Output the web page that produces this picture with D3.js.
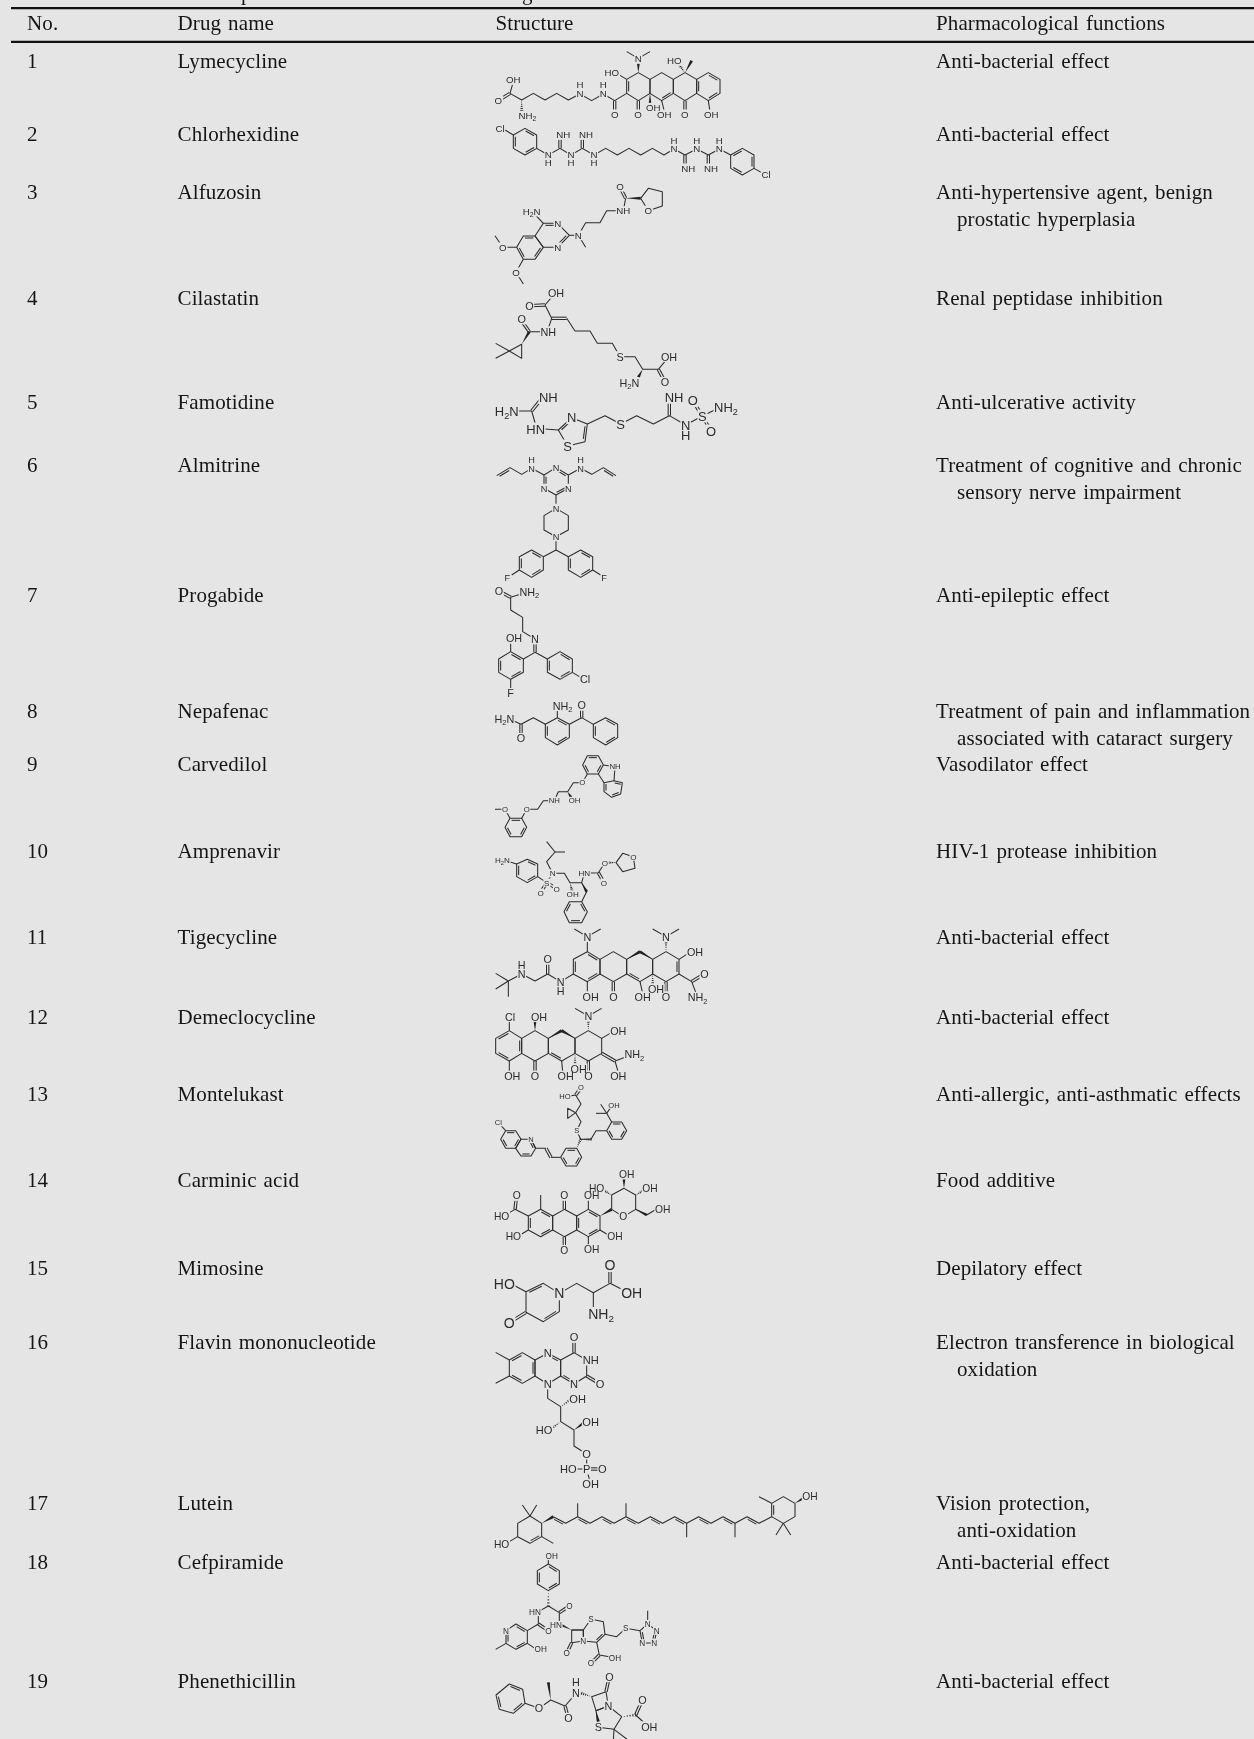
<!DOCTYPE html>
<html lang="en">
<head>
  <meta charset="UTF-8">
  <title>Drug table</title>
  <script src="https://d3js.org/d3.v7.min.js"></script>
  <style>
    * { margin: 0; padding: 0; box-sizing: border-box; }
    body { width: 1254px; height: 1739px; background-color: #e5e5e5; overflow: hidden; }
    svg { display: block; filter: blur(0.35px); }
    .cell { font-family: "Liberation Serif", serif; font-size: 21px; letter-spacing: 0.12px; word-spacing: 1.6px; fill: #151515; }
    .atom { font-family: "Liberation Sans", sans-serif; fill: #2b2b2b; text-anchor: middle; }
    .bond { fill: none; stroke: #2b2b2b; stroke-width: 1.05px; stroke-linejoin: round; }
  </style>
</head>
<body>
  <div id="table"></div>

  <script>
    // Table content
    const headers = ['No.', 'Drug name', 'Structure', 'Pharmacological functions'];
    const drugNames = ['Lymecycline', 'Chlorhexidine', 'Alfuzosin', 'Cilastatin', 'Famotidine', 'Almitrine',
      'Progabide', 'Nepafenac', 'Carvedilol', 'Amprenavir', 'Tigecycline', 'Demeclocycline', 'Montelukast',
      'Carminic acid', 'Mimosine', 'Flavin mononucleotide', 'Lutein', 'Cefpiramide', 'Phenethicillin'];
    const functions = [
      ['Anti-bacterial effect'],
      ['Anti-bacterial effect'],
      ['Anti-hypertensive agent, benign', 'prostatic hyperplasia'],
      ['Renal peptidase inhibition'],
      ['Anti-ulcerative activity'],
      ['Treatment of cognitive and chronic', 'sensory nerve impairment'],
      ['Anti-epileptic effect'],
      ['Treatment of pain and inflammation', 'associated with cataract surgery'],
      ['Vasodilator effect'],
      ['HIV-1 protease inhibition'],
      ['Anti-bacterial effect'],
      ['Anti-bacterial effect'],
      ['Anti-allergic, anti-asthmatic effects'],
      ['Food additive'],
      ['Depilatory effect'],
      ['Electron transference in biological', 'oxidation'],
      ['Vision protection,', 'anti-oxidation'],
      ['Anti-bacterial effect'],
      ['Anti-bacterial effect']
    ];

    // Layout
    const width = 1254, height = 1739;
    const columnX = [27, 177.5, 495.5, 936];
    const wrapIndent = 21, lineGap = 27;
    const headerBaseline = 30;
    const rowBaselines = [68, 141, 199, 305, 409, 471.5, 601.5, 717.5, 771, 857.5, 944, 1024, 1101, 1187,
      1275, 1349, 1509.5, 1569, 1688];

    // Structures. Units are the 3x zoom of a crop starting at origin.
    // chains/rings: polylines, doubles: x1,y1,x2,y2[,cx,cy] (cx,cy = side of the inner line)
    const lymecycline = { origin: [480, 40], size: 9,
      chains: [[100,125,90,160,125,180,160,160,195,180,230,160,265,180,300,162,335,182,370,162,404,182,440,160],
        [440,118,415,103],[475,55,440,35],[475,55,510,35],[545,182,553,215],[685,182,690,215]],
      rings: [[440,160,440,118,475,98,510,118,510,160,475,182],[510,118,545,98,580,118,580,160,545,182,510,160],
        [580,118,615,98,650,118,650,160,615,182,580,160],[650,118,685,98,720,118,720,160,685,182,650,160]],
      doubles: [[90,160,55,182],[404,182,404,223],[475,182,475,223],[615,182,615,223],[440,160,440,118,475,140],
        [545,182,580,160,545,140],[685,98,720,118,685,140],[720,160,685,182,685,140],[650,118,650,160,685,140]],
      wedges: [[475,98,475,68],[510,160,510,195],[615,98,635,62]],
      hashes: [[125,180,125,212],[615,98,598,75]],
      labels: [['OH',100,120],['O',55,182],['NH2',142,227],['H',300,135],['N',300,162],['H',370,135],['N',370,162],
        ['O',404,223],['O',474,223],['OH',520,203],['OH',553,223],['O',614,223],['OH',694,223],['HO',395,98],
        ['N',475,57],['HO',583,63]] };

    const chlorhexidine = { origin: [480, 40], size: 9,
      chains: [[100,285,75,270],[170,325,205,345,240,325,273,345,307,325,342,345,377,325,412,345,447,325,482,345,517,325,552,345,582,327,615,345,650,327,685,345,718,327,752,345],
        [822,385,845,398]],
      rings: [[135,265,170,285,170,325,135,345,100,325,100,285],[752,345,787,325,822,345,822,385,787,405,752,385]],
      doubles: [[240,325,240,295],[307,325,307,295],[615,345,615,378],[685,345,685,378],[135,265,170,285,135,305],
        [170,325,135,345,135,305],[100,325,100,285,135,305],[752,345,787,325,787,365],[822,345,822,385,787,365],[787,405,752,385,787,365]],
      labels: [['Cl',60,266],['N',205,345],['H',205,368],['N',273,345],['H',273,368],['N',342,345],['H',342,368],
        ['NH',250,285],['NH',318,285],['N',582,327],['H',582,302],['N',650,327],['H',650,302],['N',718,327],['H',718,302],
        ['NH',625,385],['NH',693,385],['Cl',858,404]] };

    const alfuzosin = { origin: [480, 40], size: 9,
      chains: [[190,550,162,520],[130,658,108,697,130,732],[110,622,68,622,45,587],[268,586,295,586,317,622],
        [295,586,317,548,360,548,380,512,430,512,437,475]],
      rings: [[268,586,233,550,190,550,165,588,190,622,233,622],[165,588,190,622,165,658,130,658,110,622,130,588],
        [482,475,505,445,547,455,547,498,505,512]],
      doubles: [[437,475,420,442],[233,550,190,550,222,586],[268,586,233,622,222,586],[165,588,130,588,150,622],[190,622,165,658,150,622],[130,658,110,622,150,622]],
      wedges: [[437,475,482,475]],
      labels: [['H2N',155,515],['N',233,550],['N',233,622],['N',295,586],['O',68,622],['O',108,697],['NH',430,513],['O',420,440],['O',505,512]] };

    const cilastatin = { origin: [470, 280], size: 10,
      chains: [[178,155,232,155,245,115,225,75,255,40],[290,115,315,153,360,153,382,190,427,190,450,230,495,230,518,268,565,268,597,230],
        [118,213,77,190],[118,213,77,235]],
      rings: [[155,193,118,213,155,235]],
      doubles: [[178,155,153,120],[225,75,180,77],[245,115,290,115],[565,268,585,305]],
      wedges: [[155,193,178,155],[518,268,505,292]],
      labels: [['OH',258,40],['O',178,77],['O',155,117],['NH',235,155],['S',450,230],['OH',597,230],['O',585,307],['H2N',478,308]] };

    const famotidine = { origin: [470, 280], size: 12,
      chains: [[130,393,185,393,197,435],[225,447,265,450],[352,432,405,407,452,432,500,407,550,432,598,407,647,435,697,408,745,385]],
      rings: [[265,450,305,413,352,432,345,485,293,498]],
      doubles: [[185,393,210,362],[598,407,598,365],[697,408,668,362],[697,408,723,453],[265,450,305,413,308,455],[352,432,345,485,308,455]],
      labels: [['H2N',110,393],['NH',235,353],['HN',197,447],['N',305,413],['S',293,498],['S',452,432],['NH',612,352],['N',647,435],['H',647,465],['S',697,408],['O',668,362],['O',723,453],['NH2',768,383]] };

    const almitrine = { origin: [470, 280], size: 8.5,
      chains: [[80,587,120,563,155,583,185,565,222,585],[295,585,332,565,365,583,400,563,438,587],[258,645,258,685],[258,770,258,810,220,830],[258,810,295,830],[148,870,125,885],[368,870,392,885]],
      rings: [[258,563,295,585,295,625,258,645,222,625,222,585],[258,685,295,707,295,750,258,770,222,750,222,707],
        [185,810,220,830,220,870,185,892,148,870,148,830],[332,810,295,830,295,870,332,892,368,870,368,830]],
      doubles: [[80,587,120,563,120,585],[400,563,438,587,400,585],[258,563,295,585,258,605],[295,625,258,645,258,605],[222,625,222,585,258,605],
        [185,810,220,830,185,850],[220,870,185,892,185,850],[148,870,148,830,185,850],[295,830,295,870,332,850],[332,892,368,870,332,850],[368,830,332,810,332,850]],
      labels: [['H',185,538],['N',185,565],['N',258,563],['N',332,565],['H',332,538],['N',295,625],['N',222,625],['N',258,685],['N',258,770],['F',112,892],['F',402,892]] };

    const progabide = { origin: [470, 590], size: 10,
      chains: [[122,22,175,5],[122,22,122,60,158,82,158,125,195,147],[195,187,160,207],[195,187,232,207],[122,185,122,160],[122,268,122,298],[307,247,332,262]],
      rings: [[160,207,160,247,122,268,86,247,86,207,122,185],[232,207,232,247,270,268,307,247,307,207,270,185]],
      doubles: [[122,22,87,3],[195,147,195,187],[160,207,122,185,122,227],[160,247,122,268,122,227],[86,247,86,207,122,227],
        [232,207,232,247,270,227],[270,268,307,247,270,227],[307,207,270,185,270,227]],
      labels: [['O',87,3],['NH2',178,5],['N',195,147],['OH',132,145],['F',122,310],['Cl',345,268]] };

    const nepafenac = { origin: [470, 590], size: 10,
      chains: [[125,390,153,403,190,383,226,403],[262,383,262,358],[298,403,335,383,370,403]],
      rings: [[226,403,262,383,298,403,298,443,262,465,226,443],[370,403,407,383,443,403,443,443,407,465,370,443]],
      doubles: [[153,403,153,445],[335,383,335,346],[262,383,298,403,262,425],[298,443,262,465,262,425],[226,443,226,403,262,425],
        [370,403,370,443,407,425],[407,383,443,403,407,425],[443,443,407,465,407,425]],
      labels: [['H2N',103,387],['O',153,445],['NH2',278,347],['O',335,346]] };

    const carvedilol = { origin: [470, 590], size: 7.2,
      chains: [[75,658,105,658,120,685],[155,685,170,658,203,658,220,632,253,632,265,605,293,605,310,578,337,578,352,552],[400,525,435,530,432,572],[385,552,402,578]],
      rings: [[120,685,155,685,170,712,155,740,120,740,105,712],[352,552,338,525,352,497,385,497,400,525,385,552],[432,572,457,578,452,612,425,622,402,605,402,578]],
      doubles: [[120,685,155,685,137,712],[170,712,155,740,137,712],[120,740,105,712,137,712],[352,552,338,525,369,525],[352,497,385,497,369,525],[400,525,385,552,369,525],
        [432,572,457,578,428,598],[452,612,425,622,428,598],[402,605,402,578,428,598]],
      wedges: [[293,605,303,622]],
      labels: [['O',105,658],['O',170,658],['NH',253,632],['OH',314,632],['O',337,578],['NH',435,530]] };

    const amprenavir = { origin: [470, 590], size: 7.5,
      chains: [[100,810,140,822],[203,860,230,878,248,850,230,815,255,786,230,755],[255,786,285,786],[248,850,283,850,300,878,335,878,343,850,385,848,405,818],[335,878,350,905,335,935]],
      rings: [[140,822,172,808,203,822,203,860,172,878,140,860],[438,818,458,790,490,800,495,835,458,845],[335,935,352,965,335,998,298,998,282,965,298,935]],
      doubles: [[230,878,212,908],[230,878,260,896],[385,848,402,878],[172,808,203,822,172,842],[203,860,172,878,172,842],[140,860,140,822,172,842],
        [335,935,352,965,317,965],[335,998,298,998,317,965],[282,965,298,935,317,965]],
      wedges: [[335,878,350,905]],
      hashes: [[300,878,306,902],[438,818,412,818]],
      labels: [['H2N',97,810],['S',230,878],['O',212,908],['O',260,896],['N',248,850],['OH',308,913],['HN',343,850],['O',405,818],['O',402,878],['O',490,800]] };

    const tigecycline = { origin: [470, 920], size: 10,
      chains: [[115,183,77,160],[115,183,77,207],[115,183,115,230],[115,183,155,162,195,183,233,162,272,185,310,162],[352,50,313,27],[352,50,392,27],[352,95,352,60],[352,185,352,218],
        [510,185,518,220],[588,50,548,27],[588,50,627,27],[627,118,655,100],[627,162,665,185,683,232]],
      rings: [[310,162,310,118,352,95,390,118,390,162,352,185],[390,118,430,95,470,118,470,162,430,185,390,162],[470,118,510,95,548,118,548,162,510,185,470,162],[548,118,588,95,627,118,627,162,588,185,548,162]],
      doubles: [[233,162,233,118],[430,185,430,230],[588,185,588,230],[665,185,703,162],[310,162,310,118,350,140],[352,95,390,118,350,140],[390,162,352,185,350,140],[470,162,510,185,510,140],[627,118,627,162,588,140]],
      wedges: [[470,118,510,95],[548,118,510,95]],
      hashes: [[588,95,588,62],[548,162,548,195]],
      labels: [['H',155,135],['N',155,162],['O',233,118],['N',272,185],['H',272,212],['N',352,50],['OH',362,230],['O',430,230],['OH',518,230],['OH',558,207],['O',588,230],['N',588,50],['OH',675,95],['O',703,162],['NH2',683,232]] };

    const demeclocycline = { origin: [470, 920], size: 10,
      chains: [[118,332,118,302],[118,423,118,455],[275,423,278,455],[355,288,315,265],[355,288,395,265],[395,355,420,340],[435,423,490,403],[435,423,445,458]],
      rings: [[118,332,155,355,155,400,118,423,77,400,77,355],[155,355,195,332,235,355,235,400,195,423,155,400],[235,355,275,332,315,355,315,400,275,423,235,400],[315,355,355,332,395,355,395,400,355,423,315,400]],
      doubles: [[195,423,195,468],[355,423,355,468],[395,400,435,423],[118,332,77,355,118,378],[77,400,118,423,118,378],[155,355,155,400,118,378],[235,400,275,423,275,378]],
      wedges: [[195,332,195,302],[235,355,275,332],[315,355,275,332]],
      hashes: [[355,332,355,300],[315,400,315,435]],
      labels: [['Cl',120,290],['OH',207,290],['OH',127,468],['O',195,468],['OH',287,468],['OH',326,447],['N',355,288],['OH',445,333],['O',355,468],['NH2',493,403],['OH',445,468]] };

    const montelukast = { origin: [470, 920], size: 7,
      chains: [[85,608,107,632],[183,658,197,685,228,685],[243,712,272,712],[332,658,320,632,333,605,317,578,333,552,317,525,285,530],[332,658,363,658,378,632,410,632],[425,606,410,580],[410,580,392,553],[410,580,378,580],[410,580,427,555]],
      rings: [[107,632,137,632,153,658,137,685,107,685,92,658],[153,658,183,658,197,685,183,708,153,708,137,685],[272,712,288,685,320,685,335,712,320,738,288,738],[410,632,425,606,455,606,470,632,455,658,425,658],[317,578,293,565,293,595]],
      doubles: [[228,685,243,712],[317,525,333,503],[107,632,137,632,122,658],[137,685,153,658,122,658],[92,658,107,685,122,658],[183,658,197,685,167,685],[183,708,153,708,167,685],[288,685,320,685,304,712],[335,712,320,738,304,712],[288,738,272,712,304,712],[425,606,455,606,440,632],[470,632,455,658,440,632],[425,658,410,632,440,632]],
      hashes: [[320,685,332,658],[332,658,363,658]],
      labels: [['Cl',85,608],['N',183,658],['S',320,632],['HO',285,530],['O',333,503],['OH',432,555]] };

    const carminicAcid = { origin: [470, 920], size: 9.5,
      chains: [[118,878,135,868,175,888],[212,868,212,825],[175,930,155,942],[355,868,355,840],[390,930,415,945],[355,950,355,975],[530,885,555,870],[530,885,497,868]],
      rings: [[175,888,212,868,248,888,248,930,212,950,175,930],[248,888,283,868,320,888,320,930,283,950,248,930],[320,888,355,868,390,888,390,930,355,950,320,930],[425,868,425,825,462,805,497,825,497,868,460,890]],
      doubles: [[135,868,140,827],[283,868,283,827],[283,950,283,990],[175,888,175,930,212,908],[212,868,248,888,212,908],[248,930,212,950,212,908],[320,888,320,930,355,908],[355,868,390,888,355,908],[390,930,355,950,355,908]],
      wedges: [[390,888,425,868],[462,805,462,775],[497,868,530,885]],
      hashes: [[425,825,402,812],[497,825,520,812]],
      labels: [['HO',95,888],['O',140,827],['HO',130,950],['O',283,827],['O',283,990],['OH',365,827],['OH',435,950],['OH',365,988],['O',460,890],['HO',380,805],['OH',470,763],['OH',540,805],['OH',578,868]] };

    const mimosine = { origin: [470, 1250], size: 13,
      chains: [[130,105,168,125],[268,130,320,100,370,128,420,100,470,125],[370,128,370,172]],
      rings: [[168,125,220,100,268,130,268,185,220,215,168,187]],
      doubles: [[168,187,118,218],[420,100,420,45],[168,125,220,100,220,155],[268,185,220,215,220,155]],
      labels: [['HO',103,102],['N',268,130],['O',118,218],['O',420,45],['OH',485,130],['NH2',393,192]] };

    const flavinMononucleotide = { origin: [470, 1250], size: 10.3,
      chains: [[77,307,118,330],[77,400,118,378],[233,402,233,445,272,470,272,515,312,540,312,588,350,612,350,657,295,657],[350,657,362,703]],
      rings: [[118,330,157,308,195,330,195,378,157,400,118,378],[195,330,233,310,272,330,272,378,233,402,195,378],[272,330,312,308,350,330,350,378,312,402,272,378]],
      doubles: [[312,308,312,262],[350,378,390,402],[350,657,397,657],[157,308,118,330,157,354],[118,378,157,400,157,354],[195,378,195,330,157,354],[233,310,272,330,233,354],[272,378,312,402,312,354]],
      wedges: [[312,540,340,520]],
      hashes: [[272,470,300,450],[272,515,245,535]],
      labels: [['N',233,310],['N',233,402],['O',312,262],['NH',362,330],['N',312,402],['O',390,402],['OH',323,447],['HO',222,540],['OH',362,517],['O',350,612],['P',350,657],['HO',295,657],['O',397,657],['OH',362,703]] };

    const lutein = { origin: [470, 1480], size: 9.5,
      chains: [[250,110,287,130,323,110,360,130,396,110,432,130,468,110,505,130,541,110,578,130,614,110,650,130,686,110,723,130,759,110,795,130,831,110,867,130,905,110],
        [180,108,157,75],[180,108,200,75],[215,170,250,190],[143,170,118,185],[323,110,323,70],[468,110,468,70],[650,130,650,172],[795,130,795,172],[905,70,867,50],[940,130,918,165],[940,130,962,165]],
      rings: [[215,130,215,170,180,190,143,170,143,130,180,108],[905,110,905,70,940,50,975,70,975,110,940,130]],
      doubles: [[215,170,180,190,180,150],[905,110,905,70,940,90],[250,110,287,130,268,140],[323,110,360,130,341,140],[396,110,432,130,414,140],[468,110,505,130,486,140],[541,110,578,130,560,140],[614,110,650,130,632,140],[686,110,723,130,705,140],[759,110,795,130,777,140],[831,110,867,130,849,140]],
      wedges: [[215,130,250,110],[975,70,1000,55]],
      labels: [['HO',95,193],['OH',1020,50]] };

    const cefpiramide = { origin: [470, 1480], size: 7.6,
      chains: [[235,240,235,252],[235,378,268,398,268,432],[235,378,205,395,205,432,172,452],[108,490,77,508],[172,490,195,505],[305,450,340,450],[405,463,440,470,467,445,510,452],[533,432,533,392],[380,487,388,525,435,533]],
      rings: [[235,252,268,272,268,312,235,332,202,312,202,272],[172,452,138,432,108,452,108,490,138,508,172,490],[305,450,340,450,340,483,305,488],[340,450,363,417,400,425,405,463,380,487,340,483],[510,452,533,432,560,452,553,488,517,490]],
      doubles: [[268,398,298,378],[205,432,235,452],[305,488,290,520],[388,525,363,550],[405,463,380,487,375,450],[235,252,268,272,235,292],[268,312,235,332,235,292],[202,312,202,272,235,292],[172,452,138,432,140,470],[108,452,108,490,140,470],[138,508,172,490,140,470],[510,452,517,490,535,467],[560,452,553,488,535,467]],
      wedges: [[305,450,268,432]],
      hashes: [[235,332,235,378]],
      labels: [['OH',245,228],['O',298,378],['HN',195,396],['HN',258,435],['O',235,452],['N',108,452],['OH',212,508],['O',290,520],['N',340,483],['S',363,417],['S',467,445],['N',533,432],['N',560,452],['N',553,488],['N',517,490],['O',363,550],['OH',435,533]] };

    const phenethicillin = { origin: [470, 1480], size: 10,
      chains: [[165,670,207,685,242,660,285,678,318,640],[432,748,430,785],[432,748,470,777],[497,705,530,735]],
      rings: [[118,612,158,628,165,670,130,700,88,688,78,645],[365,650,408,635,415,678,378,692],[378,692,385,742,432,748,455,710,415,678]],
      doubles: [[285,678,295,715],[408,635,418,590],[497,705,517,660],[118,612,158,628,122,655],[165,670,130,700,122,655],[88,688,78,645,122,655]],
      wedges: [[242,660,235,607],[378,692,385,725]],
      hashes: [[365,650,335,640],[455,710,497,705]],
      labels: [['O',207,685],['O',295,715],['H',318,607],['N',318,640],['O',418,590],['N',415,678],['S',385,742],['O',517,660],['OH',538,740]] };

    const structures = [lymecycline, chlorhexidine, alfuzosin, cilastatin, famotidine, almitrine, progabide, nepafenac,
      carvedilol, amprenavir, tigecycline, demeclocycline, montelukast, carminicAcid, mimosine, flavinMononucleotide,
      lutein, cefpiramide, phenethicillin];

    const svg = d3.select('#table').append('svg').attr('width', width).attr('height', height);
    svg.append('rect').attr('width', width).attr('height', height).attr('fill', '#e5e5e5');

    // Clipped caption above the table, only the descenders are on the page
    svg.selectAll('text.caption').data([['p', 241], ['g', 522]]).enter().append('text')
      .attr('class', 'cell caption').attr('x', d => d[1]).attr('y', 0).text(d => d[0]);

    // Rules
    svg.selectAll('line.rule').data([8.2, 41.8]).enter().append('line')
      .attr('class', 'rule').attr('x1', 11).attr('x2', width).attr('y1', d => d).attr('y2', d => d)
      .attr('stroke', '#111').attr('stroke-width', 2.2);

    // Text cells
    svg.selectAll('text.head').data(headers).enter().append('text')
      .attr('class', 'cell head').attr('x', (d, i) => columnX[i]).attr('y', headerBaseline).text(d => d);

    const rows = svg.selectAll('g.row').data(drugNames).enter().append('g').attr('class', 'row')
      .attr('transform', (d, i) => `translate(0,${rowBaselines[i]})`);
    rows.append('text').attr('class', 'cell').attr('x', columnX[0]).text((d, i) => i + 1);
    rows.append('text').attr('class', 'cell').attr('x', columnX[1]).text(d => d);
    rows.selectAll('text.fn').data((d, i) => functions[i]).enter().append('text')
      .attr('class', 'cell fn')
      .attr('x', (d, i) => columnX[3] + (i ? wrapIndent : 0))
      .attr('y', (d, i) => i * lineGap)
      .text(d => d);

    // Pairs a flat x,y,x,y list into points
    const toPoints = flat => d3.range(0, flat.length, 2).map(i => [flat[i], flat[i + 1]]);

    function drawStructure(mol) {
      const x = d3.scaleLinear().domain([0, 3]).range([mol.origin[0], mol.origin[0] + 1]);
      const y = d3.scaleLinear().domain([0, 3]).range([mol.origin[1], mol.origin[1] + 1]);
      const line = d3.line().x(d => x(d[0])).y(d => y(d[1]));
      const ring = d3.line().x(d => x(d[0])).y(d => y(d[1])).curve(d3.curveLinearClosed);
      const g = svg.append('g');
      const fontSize = mol.size * 1.08;

      g.selectAll('path.chain').data(mol.chains || []).enter().append('path')
        .attr('class', 'bond chain').attr('d', d => line(toPoints(d)));
      g.selectAll('path.ring').data(mol.rings || []).enter().append('path')
        .attr('class', 'bond ring').attr('d', d => ring(toPoints(d)));

      // double bonds: inner line toward a point, or two lines either side
      const doubleLines = [];
      (mol.doubles || []).forEach(b => {
        const [x1, y1, x2, y2, cx, cy] = b;
        const dx = x2 - x1, dy = y2 - y1, len = Math.hypot(dx, dy);
        let nx = -dy / len, ny = dx / len;
        if (b.length === 6) {
          if (nx * (cx - x1) + ny * (cy - y1) < 0) { nx = -nx; ny = -ny; }
          const o = 6, s = 0.14;
          doubleLines.push([x1 + dx * s + nx * o, y1 + dy * s + ny * o, x2 - dx * s + nx * o, y2 - dy * s + ny * o]);
        } else {
          [-3.5, 3.5].forEach(o => doubleLines.push([x1 + nx * o, y1 + ny * o, x2 + nx * o, y2 + ny * o]));
        }
      });
      g.selectAll('path.dbl').data(doubleLines).enter().append('path')
        .attr('class', 'bond dbl').attr('d', d => line(toPoints(d)));

      // solid wedges, narrow end at the first point
      g.selectAll('path.wedge').data(mol.wedges || []).enter().append('path')
        .attr('fill', '#222')
        .attr('d', ([x1, y1, x2, y2]) => {
          const len = Math.hypot(x2 - x1, y2 - y1), nx = -(y2 - y1) / len * 4.5, ny = (x2 - x1) / len * 4.5;
          return ring([[x1, y1], [x2 + nx, y2 + ny], [x2 - nx, y2 - ny]]);
        });

      // hashed wedges as short cross strokes
      const hashLines = [];
      (mol.hashes || []).forEach(([x1, y1, x2, y2]) => {
        const len = Math.hypot(x2 - x1, y2 - y1), nx = -(y2 - y1) / len, ny = (x2 - x1) / len;
        d3.range(1, 6).forEach(k => {
          const t = k / 5, w = 4.5 * t;
          const px = x1 + (x2 - x1) * t, py = y1 + (y2 - y1) * t;
          hashLines.push([px - nx * w, py - ny * w, px + nx * w, py + ny * w]);
        });
      });
      g.selectAll('path.hash').data(hashLines).enter().append('path')
        .attr('class', 'bond hash').attr('stroke-width', 0.8).attr('d', d => line(toPoints(d)));

      // atom labels, the digit in NH2 set lower
      const atoms = g.selectAll('text.atom').data(mol.labels || []).enter().append('text')
        .attr('class', 'atom').attr('font-size', fontSize + 'px')
        .attr('x', d => x(d[1])).attr('y', d => y(d[2]) + fontSize * 0.36);
      atoms.each(function (d) {
        const t = d3.select(this);
        let lowered = false;
        d[0].split(/(2)/).filter(s => s).forEach(part => {
          const span = t.append('tspan').text(part);
          if (part === '2') {
            span.attr('font-size', fontSize * 0.7 + 'px').attr('dy', fontSize * 0.22);
            lowered = true;
          } else if (lowered) {
            span.attr('dy', -fontSize * 0.22);
            lowered = false;
          }
        });
      });

      // background patch under each label so the bonds stop short of it
      const patches = [];
      atoms.each(function (d) {
        const box = this.getBBox();
        patches.push({ x: box.x - 0.6, w: box.width + 1.2, cy: y(d[2]) });
      });
      patches.forEach(p => {
        g.insert('rect', 'text.atom').attr('fill', '#e5e5e5')
          .attr('x', p.x).attr('width', p.w)
          .attr('y', p.cy - fontSize * 0.5).attr('height', fontSize);
      });
    }

    structures.forEach(drawStructure);
  </script>
</body>
</html>
